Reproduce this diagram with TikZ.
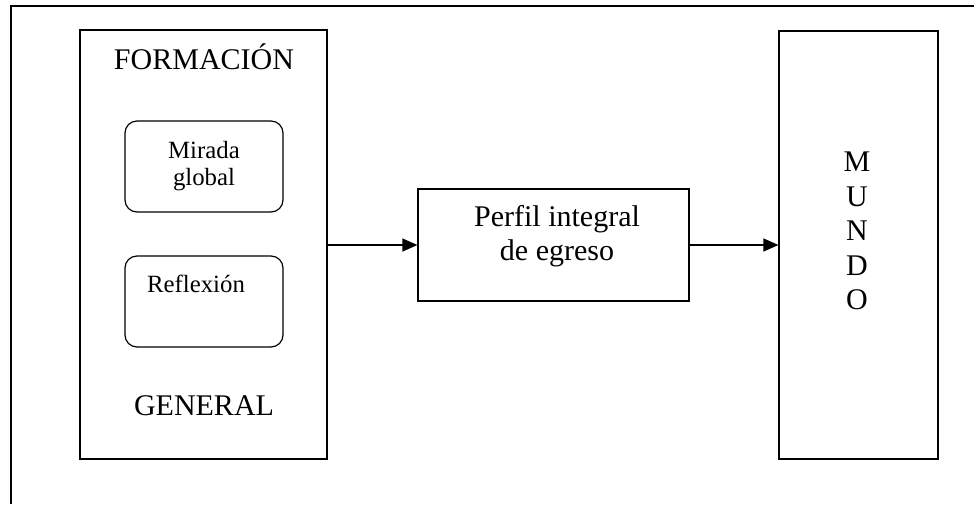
\documentclass[tikz,border=0pt]{standalone}
\usepackage{fontspec}
\setmainfont{Liberation Serif}
\usetikzlibrary{arrows.meta}
\begin{document}
\begin{tikzpicture}[x=0.5pt,y=-0.5pt,
  frame/.style={line width=0.75pt},
  box/.style={draw,line width=0.6pt,rectangle,inner sep=0pt},
  softbox/.style={box,rounded corners=6pt},
  bigtext/.style={font=\fontsize{15}{17.25}\selectfont,inner sep=0pt},
  smalltext/.style={font=\fontsize{12.4}{13.5}\selectfont,inner sep=0pt},
  flow/.style={line width=0.6pt,-{Triangle[length=7.5pt,width=6.5pt]}}]
  \useasboundingbox (0,0) rectangle (974,504);
  % open outer frame
  \draw[frame] (974,6) -- (11,6) -- (11,504);

  % left column: general education
  \node[box,minimum width=123.5pt,minimum height=214.5pt] (formbox) at (203.5,244.5) {};
  \node[bigtext,anchor=base] (formtop) at (204,69) {FORMACIÓN};
  \node[softbox,smalltext,align=center,minimum width=79pt,minimum height=45.5pt] (mirada) at (204,166.5) {Mirada\\global};
  \node[softbox,minimum width=79pt,minimum height=45.5pt] (reflbox) at (204,301.5) {};
  \node[smalltext,anchor=base] (refltext) at (196,292) {Reflexión};
  \node[bigtext,anchor=base] (formbottom) at (204,415) {GENERAL};

  % middle: graduate profile
  \node[box,minimum width=135.5pt,minimum height=56pt] (perfil) at (553.5,245) {};
  \node[bigtext,align=center] (perfiltext) at (557,236) {Perfil integral\\de egreso};

  % right column: world
  \node[box,minimum width=79.5pt,minimum height=214pt] (mundo) at (858.5,245) {};
  \node[bigtext,align=center] (mundotext) at (857,231) {M\\U\\N\\D\\O};

  % connectors
  \draw[flow] (formbox.east |- perfil.west) -- (perfil.west);
  \draw[flow] (perfil.east) -- (mundo.west |- perfil.east);
\end{tikzpicture}
\end{document}
